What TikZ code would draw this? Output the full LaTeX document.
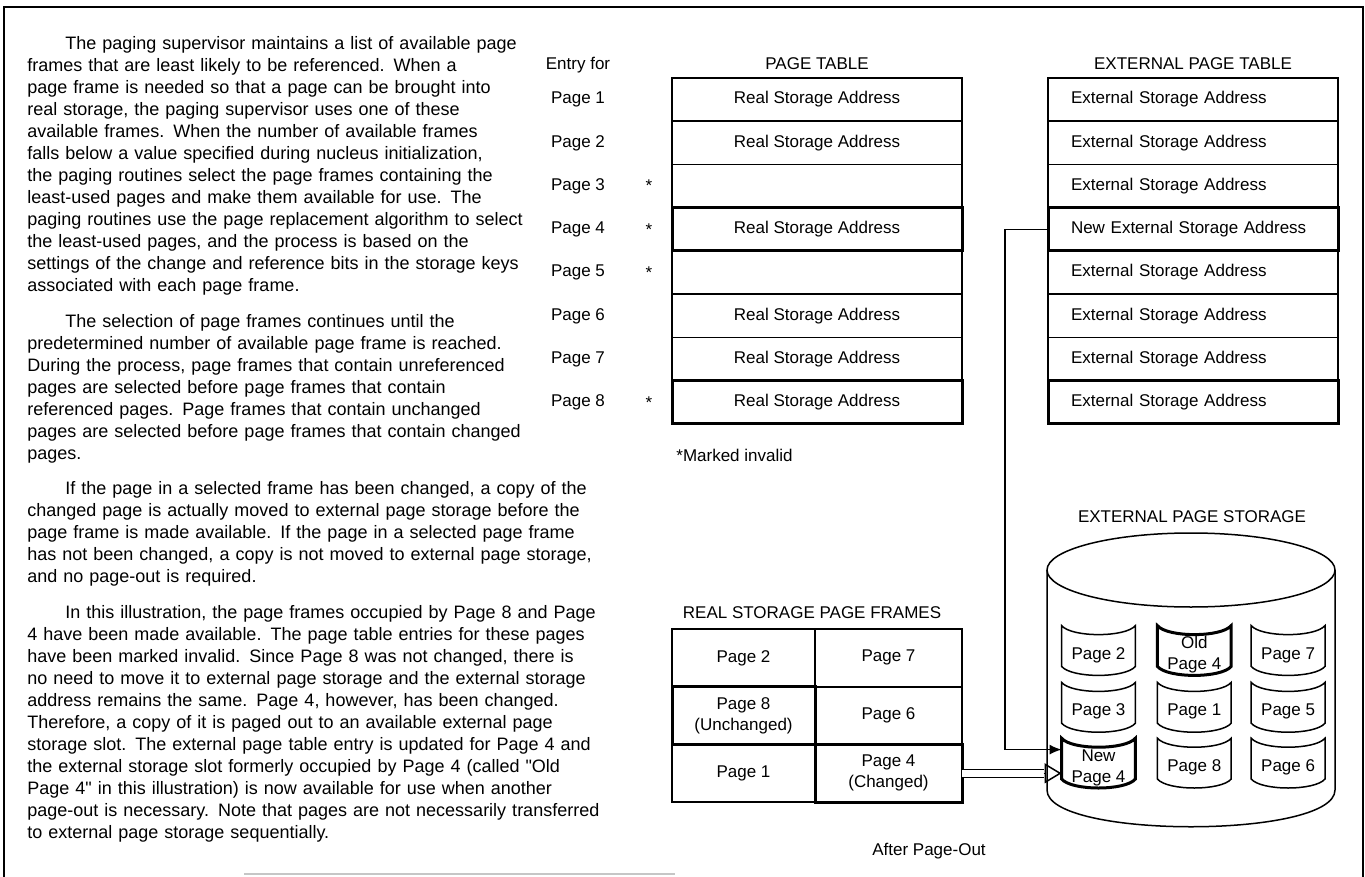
\documentclass[tikz,border=0pt]{standalone}
\usepackage{fontspec}
\setmainfont{Liberation Sans}
\usetikzlibrary{arrows.meta,positioning,calc}
\tikzset{
  pgrow/.style={rectangle, draw=black, line width=0.75pt, minimum width=145pt, minimum height=21.625pt, inner sep=0pt, outer sep=0pt, font=\fontsize{8.5}{10}\selectfont},
  extrow/.style={pgrow, align=left, text width=122pt, inner xsep=11.5pt},
  marked/.style={line width=1.5pt},
  framecell/.style={rectangle, draw=black, line width=0.75pt, minimum height=28.85pt, inner sep=0pt, outer sep=0pt, align=center, font=\fontsize{8.5}{10.5}\selectfont},
  slot/.style={rectangle, minimum width=36.5pt, minimum height=20pt, inner sep=0pt, align=center, font=\fontsize{8.5}{10.5}\selectfont},
  lbl/.style={inner sep=0pt, font=\fontsize{8.5}{10}\selectfont},
  para/.style={anchor=north west, inner sep=0pt, text width=330pt, align=left, font=\fontsize{9}{11}\selectfont},
  arrow/.style={line width=0.75pt, -{Latex[length=6pt, width=5pt]}},
  dblshaft/.style={double, double distance=3.2pt, line width=0.7pt},
  openhead/.style={line width=0.75pt, -{Triangle[open, length=8.5pt, width=10pt]}}
}
% outline of one slot on the drum
\newcommand{\slotline}[2][]{%
  \draw[line width=0.75pt, #1] ([yshift=4.5pt]#2.north west) .. controls +(10,12) and +(-10,12) .. ([yshift=4.5pt]#2.north east)
    -- ([yshift=4.5pt]#2.south east) .. controls +(-10,12) and +(10,12) .. ([yshift=4.5pt]#2.south west) -- cycle;}
\begin{document}
\begin{tikzpicture}[x=0.5pt, y=-0.5pt]
  \useasboundingbox (0,0) rectangle (1365,877);
  \draw[line width=1pt] (4,877) -- (4,7) -- (1363,7) -- (1363,877);
  \draw[gray!45, line width=0.6pt] (244,874) -- (675,874);

  % text column
  \node[para] (p1) at (27,36) {\hspace*{19pt}The paging supervisor maintains a list of available page\\
frames that are least likely to be referenced.  When a\\
page frame is needed so that a page can be brought into\\
real storage, the paging supervisor uses one of these\\
available frames.  When the number of available frames\\
falls below a value specified during nucleus initialization,\\
the paging routines select the page frames containing the\\
least-used pages and make them available for use.  The\\
paging routines use the page replacement algorithm to select\\
the least-used pages, and the process is based on the\\
settings of the change and reference bits in the storage keys\\
associated with each page frame.};
  \node[para] (p2) at (27,314) {\hspace*{19pt}The selection of page frames continues until the\\
predetermined number of available page frame is reached.\\
During the process, page frames that contain unreferenced\\
pages are selected before page frames that contain\\
referenced pages.  Page frames that contain unchanged\\
pages are selected before page frames that contain changed\\
pages.};
  \node[para] (p3) at (27,481) {\hspace*{19pt}If the page in a selected frame has been changed, a copy of the\\
changed page is actually moved to external page storage before the\\
page frame is made available.  If the page in a selected page frame\\
has not been changed, a copy is not moved to external page storage,\\
and no page-out is required.};
  \node[para] (p4) at (27,605) {\hspace*{19pt}In this illustration, the page frames occupied by Page 8 and Page\\
4 have been made available.  The page table entries for these pages\\
have been marked invalid.  Since Page 8 was not changed, there is\\
no need to move it to external page storage and the external storage\\
address remains the same.  Page 4, however, has been changed.\\
Therefore, a copy of it is paged out to an available external page\\
storage slot.  The external page table entry is updated for Page 4 and\\
the external storage slot formerly occupied by Page 4 (called \textquotedbl Old\\
Page 4\textquotedbl{} in this illustration) is now available for use when another\\
page-out is necessary.  Note that pages are not necessarily transferred\\
to external page storage sequentially.};

  % page table
  \node[lbl] (pttitle) at (817,64) {PAGE TABLE};
  \node[pgrow] (pt1) at (817,99.6) {Real Storage Address};
  \node[pgrow, below=0pt of pt1] (pt2) {Real Storage Address};
  \node[pgrow, below=0pt of pt2] (pt3) {};
  \node[pgrow, marked, below=0pt of pt3] (pt4) {Real Storage Address};
  \node[pgrow, below=0pt of pt4] (pt5) {};
  \node[pgrow, below=0pt of pt5] (pt6) {Real Storage Address};
  \node[pgrow, below=0pt of pt6] (pt7) {Real Storage Address};
  \node[pgrow, marked, below=0pt of pt7] (pt8) {Real Storage Address};
  \node[lbl, anchor=west] (note) at (676,455) {*Marked invalid};

  \coordinate (lblx) at (578,0);
  \coordinate (starx) at (649,0);
  \node[lbl] (entry) at (578,65) {Entry for};
  \node[lbl] (e1) at (pt1 -| lblx) {Page 1};
  \node[lbl] (e2) at (pt2 -| lblx) {Page 2};
  \node[lbl] (e3) at (pt3 -| lblx) {Page 3};
  \node[lbl] (e4) at (pt4 -| lblx) {Page 4};
  \node[lbl] (e5) at (pt5 -| lblx) {Page 5};
  \node[lbl] (e6) at (pt6 -| lblx) {Page 6};
  \node[lbl] (e7) at (pt7 -| lblx) {Page 7};
  \node[lbl] (e8) at (pt8 -| lblx) {Page 8};
  \node[lbl] (s3) at (pt3 -| starx) {*};
  \node[lbl] (s4) at (pt4 -| starx) {*};
  \node[lbl] (s5) at (pt5 -| starx) {*};
  \node[lbl] (s8) at (pt8 -| starx) {*};

  % external page table
  \node[lbl] (ettitle) at (1193,64) {EXTERNAL PAGE TABLE};
  \node[extrow] (et1) at (1193,99.6) {External Storage Address};
  \node[extrow, below=0pt of et1] (et2) {External Storage Address};
  \node[extrow, below=0pt of et2] (et3) {External Storage Address};
  \node[extrow, marked, below=0pt of et3] (et4) {New External Storage Address};
  \node[extrow, below=0pt of et4] (et5) {External Storage Address};
  \node[extrow, below=0pt of et5] (et6) {External Storage Address};
  \node[extrow, below=0pt of et6] (et7) {External Storage Address};
  \node[extrow, marked, below=0pt of et7] (et8) {External Storage Address};

  % real storage page frames
  \node[lbl] (rstitle) at (812,613) {REAL STORAGE PAGE FRAMES};
  \node[framecell, minimum width=71.5pt] (rs1) at (743.5,657.9) {Page 2};
  \node[framecell, minimum width=73.5pt, right=0pt of rs1] (rs2) {Page 7};
  \node[framecell, marked, minimum width=71.5pt, below=0pt of rs1] (rs3) {Page 8\\(Unchanged)};
  \node[framecell, minimum width=73.5pt, below=0pt of rs2] (rs4) {Page 6};
  \node[framecell, minimum width=71.5pt, below=0pt of rs3] (rs5) {Page 1};
  \node[framecell, marked, minimum width=73.5pt, below=0pt of rs4] (rs6) {Page 4\\(Changed)};

  % external page storage
  \node[lbl] (eptitle) at (1192,517) {EXTERNAL PAGE STORAGE};
  \draw[line width=0.75pt] (1191,570) ellipse [x radius=144, y radius=37];
  \draw[line width=0.75pt] (1047,570) -- (1047,790) .. controls (1047,839) and (1335,839) .. (1335,790) -- (1335,570);
  \node[slot] (sl1) at (1098.5,655) {Page 2};
  \node[slot, right=11pt of sl1] (sl2) {Old\\Page 4};
  \node[slot, right=10pt of sl2] (sl3) {Page 7};
  \node[slot, below=8pt of sl1] (sl4) {Page 3};
  \node[slot, below=8pt of sl2] (sl5) {Page 1};
  \node[slot, below=8pt of sl3] (sl6) {Page 5};
  \node[slot, below=7.5pt of sl4] (sl7) {New\\Page 4};
  \node[slot, below=7.5pt of sl5] (sl8) {Page 8};
  \node[slot, below=7.5pt of sl6] (sl9) {Page 6};
  \foreach \s in {sl1,sl3,sl4,sl5,sl6,sl8,sl9} {\slotline{\s}}
  \slotline[marked]{sl2}
  \slotline[marked]{sl7}

  \coordinate (bend) at (1005,0);
  \draw[arrow] (et4.west) -- (et4.west -| bend) |- ([yshift=9pt]sl7.west);
  \coordinate (hb) at ([xshift=-9pt]sl7.west |- rs6.east);
  \draw[dblshaft] (rs6.east) -- (hb);
  \draw[openhead] (hb) -- (rs6.east -| sl7.west);

  \node[lbl] (after) at (929,851) {After Page-Out};
\end{tikzpicture}
\end{document}
